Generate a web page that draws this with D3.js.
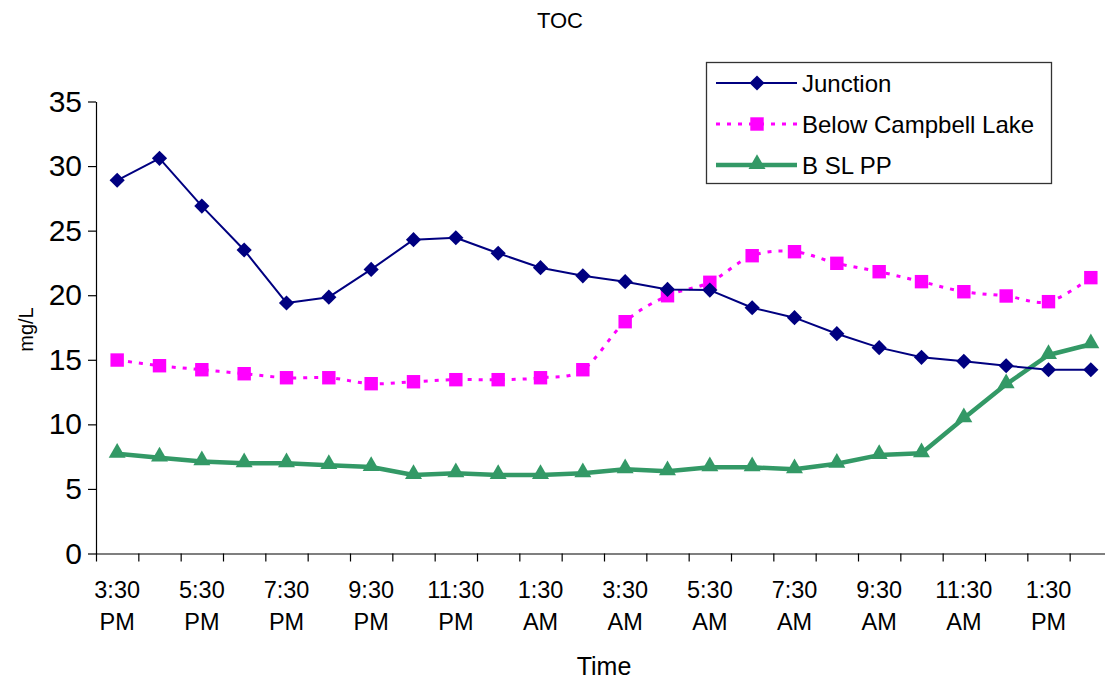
<!DOCTYPE html>
<html>
<head>
<meta charset="utf-8">
<script src="https://cdn.jsdelivr.net/npm/d3@7"></script>
<style>
  html, body { margin: 0; padding: 0; background: #fff; }
  svg { display: block; font-family: "Liberation Sans", Arial, sans-serif; }
</style>
</head>
<body>
<svg id="chart" width="1105" height="681"></svg>
<script>
// Hourly sampling times (every other one is labelled on the axis)
const times = [
  "3:30 PM", "4:30 PM", "5:30 PM", "6:30 PM", "7:30 PM", "8:30 PM",
  "9:30 PM", "10:30 PM", "11:30 PM", "12:30 AM", "1:30 AM", "2:30 AM",
  "3:30 AM", "4:30 AM", "5:30 AM", "6:30 AM", "7:30 AM", "8:30 AM",
  "9:30 AM", "10:30 AM", "11:30 AM", "12:30 PM", "1:30 PM", "2:30 PM"
];

// TOC concentrations, mg/L
const junction = [
  28.9, 30.6, 26.9, 23.5, 19.4, 19.85, 22.0, 24.3, 24.45, 23.25, 22.13, 21.5,
  21.05, 20.45, 20.4, 19.03, 18.26, 17.02, 15.94, 15.19, 14.88, 14.54, 14.23, 14.23
];
const belowCampbell = [
  14.98, 14.54, 14.23, 13.92, 13.61, 13.61, 13.15, 13.3, 13.46, 13.46, 13.61, 14.23,
  17.95, 19.96, 21.0, 23.06, 23.37, 22.47, 21.82, 21.05, 20.27, 19.94, 19.5, 21.36
];
const bSlPp = [
  7.72, 7.42, 7.13, 6.98, 6.98, 6.84, 6.7, 6.08, 6.21, 6.08, 6.08, 6.21,
  6.52, 6.36, 6.67, 6.67, 6.52, 6.95, 7.62, 7.76, 10.47, 13.1, 15.37, 16.2
];

const yTicks = [0, 5, 10, 15, 20, 25, 30, 35];

const seriesNames = ["Junction", "Below Campbell Lake", "B SL PP"];

const svg = d3.select("#chart");

const plot = { left: 96, right: 1112, top: 101.5, bottom: 553.5 };

const x = d3.scaleBand().domain(times).range([plot.left, plot.right]).padding(0);
const xEdge = d3.scaleLinear().domain([0, times.length]).range([plot.left, plot.right]);
const y = d3.scaleLinear().domain([0, 35]).range([plot.bottom, plot.top]);
const cx = d => x(d) + x.bandwidth() / 2;

// Y axis
const yAxis = svg.append("g")
  .attr("transform", `translate(${plot.left},0)`)
  .call(d3.axisLeft(y).tickValues(yTicks).tickSize(8).tickSizeOuter(0).tickPadding(6));
yAxis.select(".domain").attr("stroke", "#000").attr("stroke-width", 1.2);
yAxis.selectAll(".tick line").attr("stroke", "#000").attr("stroke-width", 1.2);
yAxis.selectAll(".tick text")
  .attr("font-size", 30).attr("fill", "#000")
  .attr("font-family", "'Liberation Sans', Arial, sans-serif");

// X axis: ticks at every category boundary
const xTickAxis = svg.append("g")
  .attr("transform", `translate(0,${plot.bottom})`)
  .call(d3.axisBottom(xEdge).tickValues(d3.range(0, times.length + 1)).tickSize(8).tickSizeOuter(0).tickFormat(""));
xTickAxis.select(".domain").attr("stroke", "#000").attr("stroke-width", 1.2);
xTickAxis.selectAll(".tick line").attr("stroke", "#000").attr("stroke-width", 1.2);

// X labels on every other category, split over two lines
const xLabelAxis = svg.append("g")
  .attr("transform", `translate(0,${plot.bottom})`)
  .call(d3.axisBottom(x).tickValues(times.filter((d, i) => i % 2 === 0)).tickSize(0).tickFormat(""));
xLabelAxis.select(".domain").remove();
xLabelAxis.selectAll(".tick").each(function(d) {
  const parts = d.split(" ");
  const t = d3.select(this).append("text")
    .attr("fill", "#000").attr("font-size", 23.5)
    .attr("text-anchor", "middle")
    .attr("font-family", "'Liberation Sans', Arial, sans-serif");
  t.append("tspan").attr("x", 0).attr("y", 44).text(parts[0]);
  t.append("tspan").attr("x", 0).attr("y", 76).text(parts[1]);
});

// Series lines
const straight = d3.line().x((d, i) => cx(times[i])).y(d => y(d));
const smooth = d3.line().x((d, i) => cx(times[i])).y(d => y(d)).curve(d3.curveCatmullRom.alpha(0));

svg.append("path").datum(bSlPp)
  .attr("d", straight).attr("fill", "none")
  .attr("stroke", "#339966").attr("stroke-width", 4.5).attr("stroke-linejoin", "round");

svg.append("path").datum(belowCampbell)
  .attr("d", smooth).attr("fill", "none")
  .attr("stroke", "#ff00ff").attr("stroke-width", 3).attr("stroke-dasharray", "4,7");

svg.append("path").datum(junction)
  .attr("d", straight).attr("fill", "none")
  .attr("stroke", "#000080").attr("stroke-width", 2).attr("stroke-linejoin", "round");

// Markers
const diamond = d3.symbol().type(d3.symbolSquare).size(115);
const square = d3.symbol().type(d3.symbolSquare).size(180);
const triangle = d3.symbol().type(d3.symbolTriangle).size(125);

svg.append("g").selectAll("path").data(bSlPp).join("path")
  .attr("d", triangle)
  .attr("transform", (d, i) => `translate(${cx(times[i])},${y(d) - 1})`)
  .attr("fill", "#339966");

svg.append("g").selectAll("path").data(belowCampbell).join("path")
  .attr("d", square)
  .attr("transform", (d, i) => `translate(${cx(times[i])},${y(d)})`)
  .attr("fill", "#ff00ff");

svg.append("g").selectAll("path").data(junction).join("path")
  .attr("d", diamond)
  .attr("transform", (d, i) => `translate(${cx(times[i])},${y(d)}) rotate(45)`)
  .attr("fill", "#000080");

// Titles
svg.append("text").attr("x", 560).attr("y", 28)
  .attr("text-anchor", "middle").attr("font-size", 22).text("TOC");

svg.append("text").attr("x", (plot.left + plot.right) / 2).attr("y", 675)
  .attr("text-anchor", "middle").attr("font-size", 25).text("Time");

svg.append("text")
  .attr("transform", `translate(33,${(plot.top + plot.bottom) / 2 + 2}) rotate(-90)`)
  .attr("text-anchor", "middle").attr("font-size", 20).text("mg/L");

// Legend
const legend = svg.append("g");
legend.append("rect")
  .attr("x", 706.5).attr("y", 62.5).attr("width", 345).attr("height", 121)
  .attr("fill", "#fff").attr("stroke", "#333").attr("stroke-width", 1.3);

const legendRows = [
  { color: "#000080", width: 2, dash: null, marker: diamond, rot: 45 },
  { color: "#ff00ff", width: 3, dash: "4,7", marker: square, rot: 0 },
  { color: "#339966", width: 4.5, dash: null, marker: triangle, rot: 0 }
];
const rowY = d3.scalePoint().domain(seriesNames).range([83, 165]);

seriesNames.forEach((name, i) => {
  const r = legendRows[i];
  const yy = rowY(name);
  legend.append("line")
    .attr("x1", 716).attr("x2", 797).attr("y1", yy).attr("y2", yy)
    .attr("stroke", r.color).attr("stroke-width", r.width)
    .attr("stroke-dasharray", r.dash);
  legend.append("path")
    .attr("d", r.marker)
    .attr("transform", `translate(757,${yy - (i === 2 ? 1 : 0)}) rotate(${r.rot})`)
    .attr("fill", r.color);
  legend.append("text")
    .attr("x", 802).attr("y", yy + 8.5)
    .attr("font-size", 24).text(name);
});
</script>
</body>
</html>
